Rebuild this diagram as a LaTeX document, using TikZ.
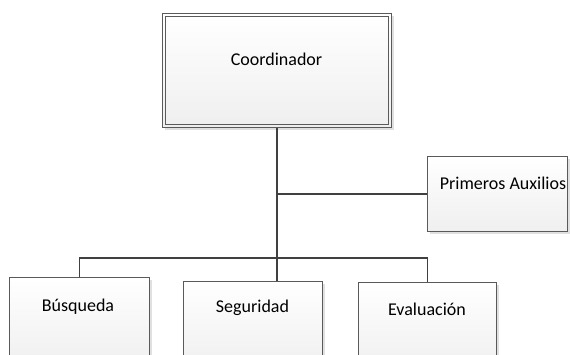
\documentclass[tikz,border=0pt]{standalone}
\usepackage{fontspec}
\setmainfont{Carlito}
\usetikzlibrary{shadows}
\definecolor{edge}{HTML}{5A5A5A}
\definecolor{wire}{HTML}{404040}
\definecolor{boxbot}{HTML}{EFEFEF}
\tikzset{
  x=1pt, y=-1pt,
  unitbox/.style={draw=edge, line width=0.9pt, top color=white, bottom color=boxbot,
    drop shadow={shadow xshift=3pt, shadow yshift=-3pt, fill=black, opacity=0.12},
    inner sep=0pt, anchor=north west},
  lbl/.style={font=\fontsize{18}{21}\selectfont, text=black, inner sep=0pt},
  wireline/.style={draw=wire, line width=1.6pt},
  mainline/.style={draw=wire, line width=2.2pt}
}
\begin{document}
\begin{tikzpicture}
\useasboundingbox (0,0) rectangle (570,354);
\clip (0,0) rectangle (570,354);
% Coordinador
\node[unitbox, minimum width=229pt, minimum height=114pt] (coord) at (162,13) {};
\node[draw=edge, line width=0.9pt, inner sep=0pt, minimum width=223pt, minimum height=108pt, anchor=north west] (coordin) at (165,16) {};
\node[lbl] (coordt) at (276.5,59) {Coordinador};
% Primeros Auxilios
\node[unitbox, minimum width=140pt, minimum height=75pt] (prim) at (427,156) {};
\node[lbl] (primt) at (503,183) {Primeros Auxilios};
% Bottom
\node[unitbox, minimum width=140pt, minimum height=90pt] (bus) at (9,277) {};
\node[lbl] (bust) at (78,307) {Búsqueda};
\node[unitbox, minimum width=139pt, minimum height=90pt] (seg) at (183,281) {};
\node[lbl] (segt) at (252.5,308) {Seguridad};
\node[unitbox, minimum width=138pt, minimum height=90pt] (eva) at (358,282) {};
\node[lbl] (evat) at (427,309) {Evaluación};
% connectors
\coordinate (bar) at (0,258);
\draw[wireline] (bus.north) -- (bus.north |- bar) -- (eva.north |- bar) -- (eva.north);
\draw[wireline] (coord.south |- prim.west) -- (prim.west);
\draw[mainline] (coord.south) -- (coord.south |- seg.north);
\end{tikzpicture}
\end{document}
